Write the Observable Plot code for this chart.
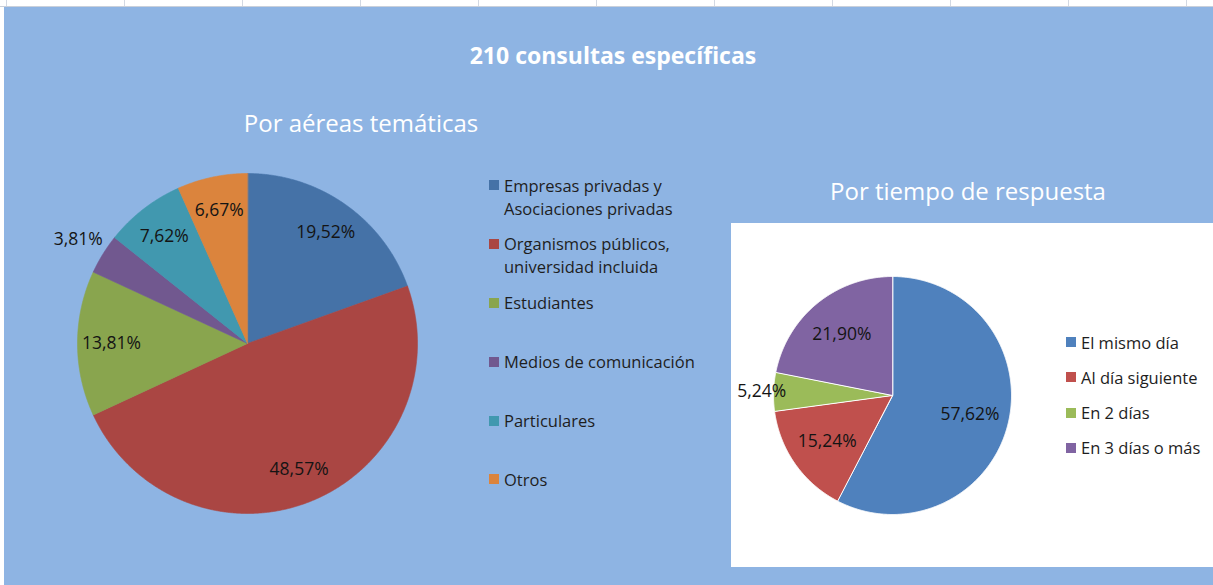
<!DOCTYPE html>
<html>
<head>
<meta charset="utf-8">
<script src="https://cdn.jsdelivr.net/npm/d3@7"></script>
<script src="https://cdn.jsdelivr.net/npm/@observablehq/plot@0.6"></script>
<style>
  html, body { margin: 0; padding: 0; background: #ffffff; }
  #stage { position: relative; width: 1213px; height: 585px; overflow: hidden; font-family: "Open Sans", sans-serif; }
  #grid { position: absolute; left: 0; top: 0; width: 1213px; height: 7px;
    background: repeating-linear-gradient(to right, transparent 0, transparent 6px, #d3d9e3 6px, #d3d9e3 7px, transparent 7px, transparent 118px);
    border-bottom: 1px solid #c9d0db; box-sizing: border-box; }
  #panel { position: absolute; left: 4px; top: 7px; width: 1209px; height: 578px; background: #8eb4e3; }
  .abs { position: absolute; }
  .title { color: #ffffff; text-align: center; white-space: nowrap; }
  .legend { position: absolute; font-size: 16.5px; color: #1e1e1e; line-height: 23px; }
  .legend .item { display: flex; align-items: flex-start; }
  .legend .sw { width: 10px; height: 10px; margin-top: 6.5px; margin-right: 5px; flex: none; }
  .legend .tx { white-space: pre-line; }
  #whitebox { position: absolute; left: 731px; top: 223px; width: 482px; height: 344px; background: #ffffff; }
</style>
</head>
<body>
<div id="stage">
  <div id="grid"></div>
  <div id="panel"></div>
  <div id="whitebox"></div>
  <div class="abs title" id="mainTitle" style="left:413px; top:39px; width:400px; font-size:23px; font-weight:700;"></div>
  <div class="abs title" id="leftTitle" style="left:161px; top:106px; width:400px; font-size:24px;"></div>
  <div class="abs title" id="rightTitle" style="left:768px; top:174px; width:400px; font-size:24px;"></div>
  <div class="abs" id="leftPie" style="left:30px; top:153px;"></div>
  <div class="abs" id="rightPie" style="left:731px; top:223px;"></div>
  <div class="legend" id="leftLegend" style="left:489px; top:173.5px;"></div>
  <div class="legend" id="rightLegend" style="left:1066px; top:330.5px;"></div>
</div>
<script>
// ---- Data ----
const mainTitle = "210 consultas específicas";
const leftTitle = "Por aéreas temáticas";
const rightTitle = "Por tiempo de respuesta";

const areaCategories = [
  "Empresas privadas y\nAsociaciones privadas",
  "Organismos públicos,\nuniversidad incluida",
  "Estudiantes",
  "Medios de comunicación",
  "Particulares",
  "Otros"
];
const areaValues = [19.52, 48.57, 13.81, 3.81, 7.62, 6.67];
const areaColors = ["#4572a7", "#aa4643", "#89a54e", "#71588f", "#4198af", "#db843d"];

const timeCategories = ["El mismo día", "Al día siguiente", "En 2 días", "En 3 días o más"];
const timeValues = [57.62, 15.24, 5.24, 21.90];
const timeColors = ["#4f81bd", "#c0504d", "#9bbb59", "#8064a2"];

// ---- Helpers ----
const fmt = v => v.toFixed(2).replace(".", ",") + "%";

function piePlot({cats, values, colors, width, height, margin, labelR, outsideR, stroke, strokeWidth}) {
  const arcs = d3.pie().sort(null).value(d => d)(values);
  const pts = [];
  arcs.forEach((a, i) => {
    const n = Math.max(4, Math.ceil((a.endAngle - a.startAngle) / 0.005));
    pts.push({x: 0, y: 0, c: cats[i]});
    for (let k = 0; k <= n; k++) {
      const t = a.startAngle + (a.endAngle - a.startAngle) * k / n;
      pts.push({x: Math.sin(t), y: Math.cos(t), c: cats[i]});
    }
  });
  const labels = arcs.map((a, i) => {
    const m = (a.startAngle + a.endAngle) / 2;
    const r = values[i] < 6 ? outsideR : labelR;
    return {x: r * Math.sin(m), y: r * Math.cos(m), text: fmt(values[i])};
  });
  return Plot.plot({
    width, height,
    marginLeft: margin[0], marginRight: margin[1], marginTop: margin[2], marginBottom: margin[3],
    x: {domain: [-1, 1], axis: null},
    y: {domain: [-1, 1], axis: null},
    color: {domain: cats, range: colors},
    style: {background: "transparent", overflow: "visible", fontFamily: "Open Sans, sans-serif"},
    marks: [
      Plot.line(pts, {x: "x", y: "y", z: "c", fill: "c", stroke: stroke ?? "c", strokeWidth, curve: "linear-closed"}),
      Plot.text(labels, {x: "x", y: "y", text: "text", fontSize: 17.5, fill: "#141414", stroke: null})
    ]
  });
}

function legend(el, cats, colors, itemHeight) {
  cats.forEach((c, i) => {
    const it = document.createElement("div");
    it.className = "item";
    it.style.height = itemHeight + "px";
    const sw = document.createElement("div");
    sw.className = "sw";
    sw.style.background = colors[i];
    const tx = document.createElement("div");
    tx.className = "tx";
    tx.textContent = c;
    it.appendChild(sw); it.appendChild(tx);
    el.appendChild(it);
  });
}

document.getElementById("mainTitle").textContent = mainTitle;
document.getElementById("leftTitle").textContent = leftTitle;
document.getElementById("rightTitle").textContent = rightTitle;

document.getElementById("leftPie").appendChild(piePlot({
  cats: areaCategories, values: areaValues, colors: areaColors,
  width: 410, height: 380, margin: [47, 23, 20, 20],
  labelR: 0.8, outsideR: 1.17, stroke: null, strokeWidth: 0.6
}));
document.getElementById("rightPie").appendChild(piePlot({
  cats: timeCategories, values: timeValues, colors: timeColors,
  width: 300, height: 344, margin: [42, 20, 53, 53],
  labelR: 0.67, outsideR: 1.1, stroke: "white", strokeWidth: 1
}));

legend(document.getElementById("leftLegend"), areaCategories, areaColors, 58.9);
legend(document.getElementById("rightLegend"), timeCategories, timeColors, 35.3);
</script>
</body>
</html>
